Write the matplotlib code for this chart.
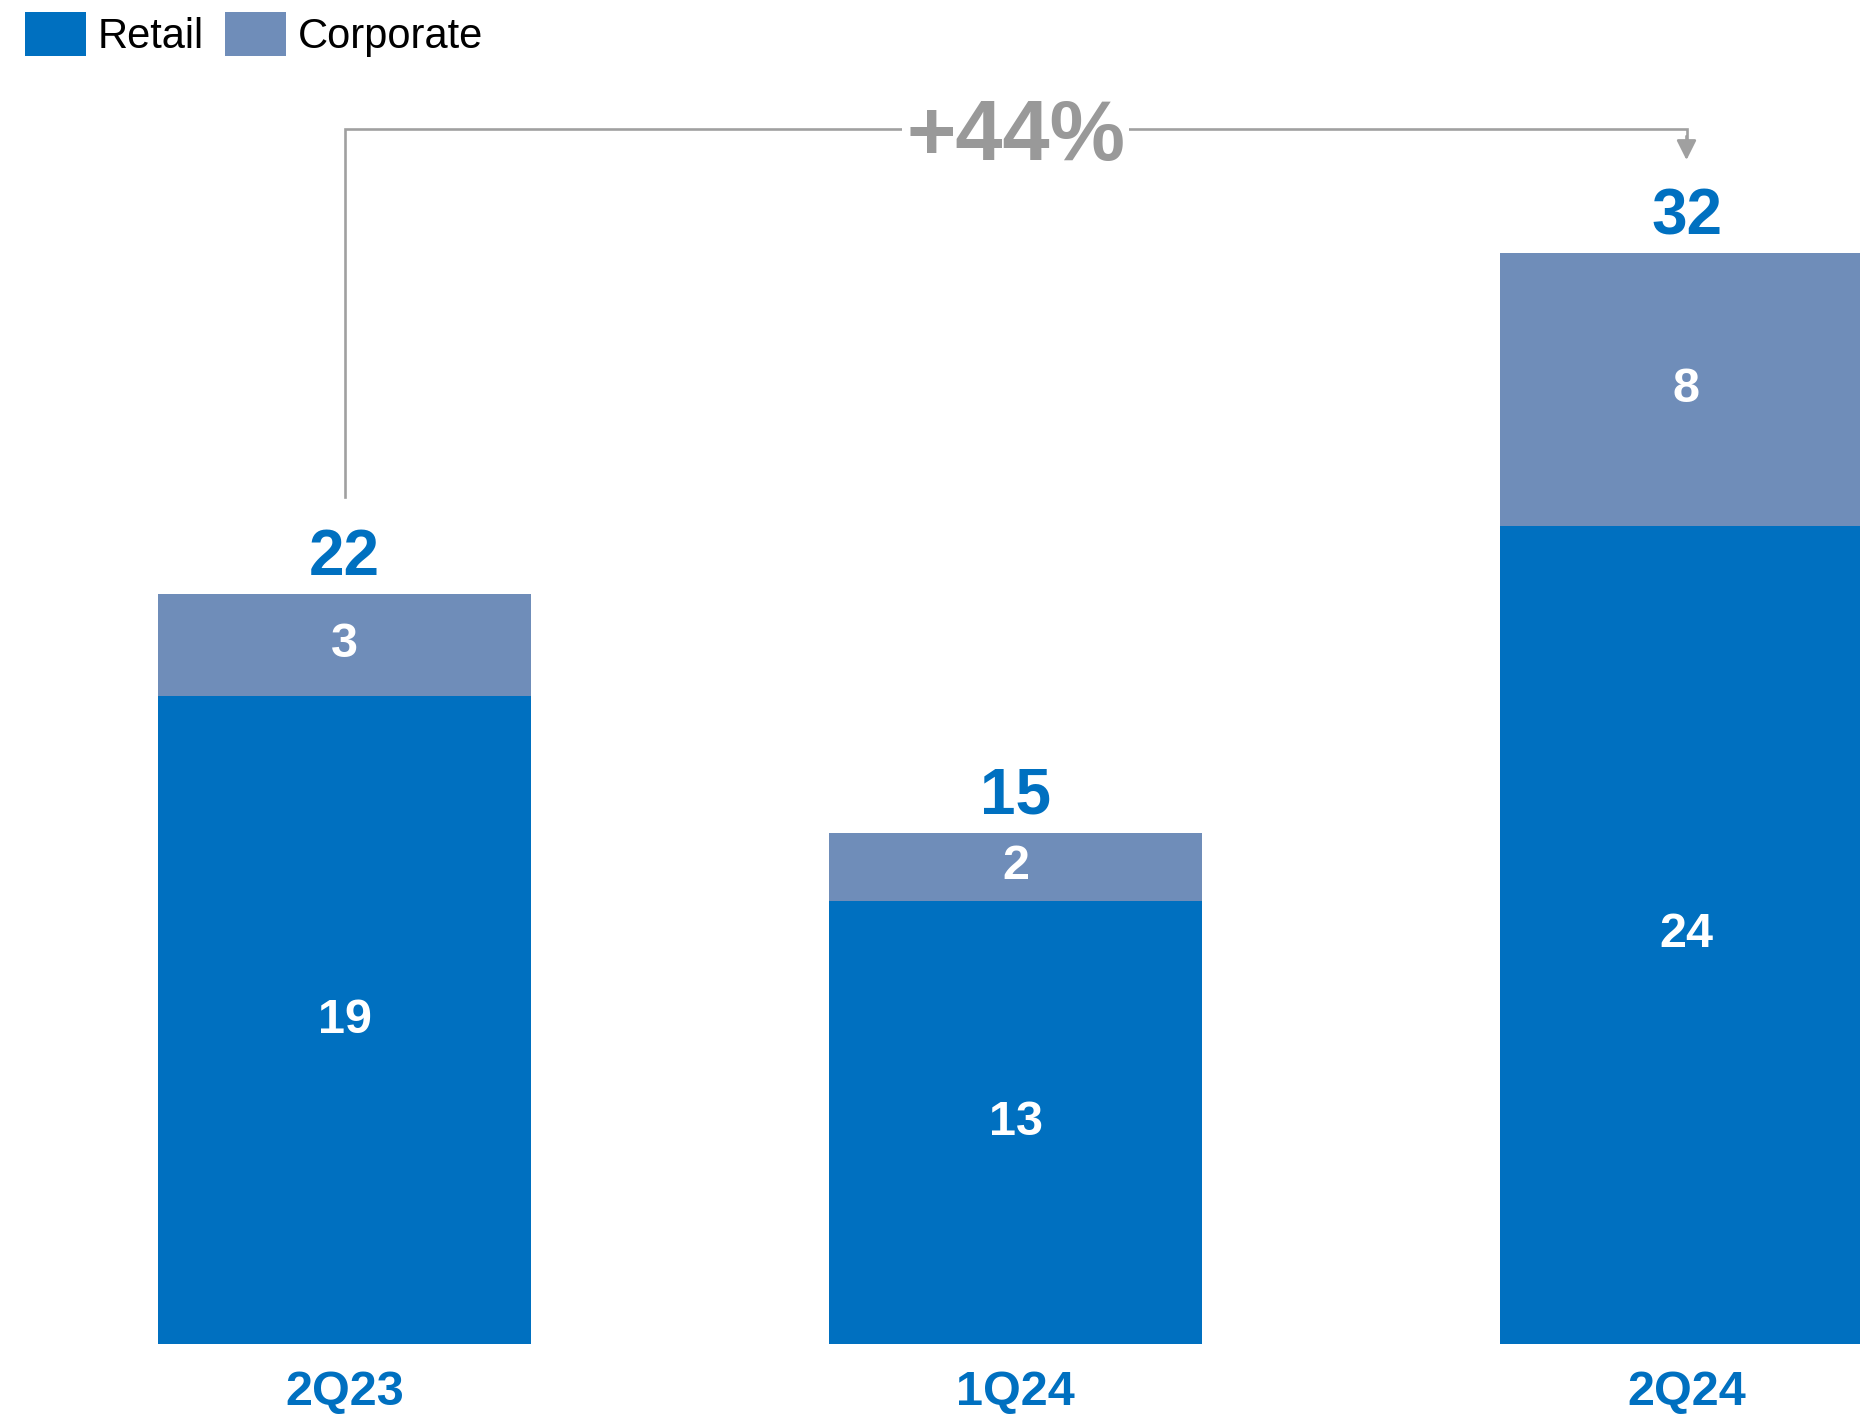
import matplotlib
matplotlib.use("Agg")
import matplotlib.pyplot as plt
from matplotlib.patches import Patch

# Data
quarters = ["2Q23", "1Q24", "2Q24"]
retail = [19, 13, 24]
corporate = [3, 2, 8]
growth_label = "+44%"

RETAIL_BLUE = "#0070C0"
CORP_BLUE = "#6F8DB9"
GREY = "#999999"
LINE_GREY = "#A0A0A0"

plt.rcParams["font.family"] = ["Liberation Sans", "DejaVu Sans"]

W, H, DPI = 1860, 1415, 100
fig = plt.figure(figsize=(W / DPI, H / DPI), dpi=DPI)

base_px = 1344          # baseline of the bars, from the top of the figure
px_per_unit = 34.1
ax = fig.add_axes([0, (H - base_px) / H, 1, base_px / H])
ax.set_xlim(-344.5 / 671, (W - 344.5) / 671)
ax.set_ylim(0, base_px / px_per_unit)
for s in ax.spines.values():
    s.set_visible(False)
ax.set_yticks([])

x = list(range(len(quarters)))
totals = [r + c for r, c in zip(retail, corporate)]
width = 0.556

ax.bar(x, retail, width, color=RETAIL_BLUE, edgecolor="none", label="Retail")
ax.bar(x, corporate, width, bottom=retail, color=CORP_BLUE, edgecolor="none",
       label="Corporate")

# Segment values
for xi, r, c in zip(x, retail, corporate):
    ax.text(xi, r / 2, f"{r}", ha="center", va="center", color="white",
            fontsize=35, fontweight="bold")
    ax.text(xi, r + c / 2, f"{c}", ha="center", va="center", color="white",
            fontsize=35, fontweight="bold")

# Totals above bars
for xi, t in zip(x, totals):
    ax.annotate(f"{t}", (xi, t), xytext=(0, 13.5), textcoords="offset points",
                ha="center", va="baseline", color=RETAIL_BLUE, fontsize=46,
                fontweight="bold")

# Category axis
ax.set_xticks(x)
ax.set_xticklabels(quarters, color=RETAIL_BLUE, fontsize=35, fontweight="bold")
ax.tick_params(axis="x", length=0, pad=19)

# Growth bracket from first to last quarter
y_bar = (base_px - 129) / px_per_unit
y_left_end = totals[0] + 2.84
y_tip = totals[-1] + 2.72
ax.plot([x[0], x[0], x[-1], x[-1]], [y_left_end, y_bar, y_bar, y_tip + 0.6],
        color=LINE_GREY, lw=1.9, solid_joinstyle="miter", zorder=3)
ax.annotate("", xy=(x[-1], y_tip), xytext=(x[-1], y_tip + 0.7),
            arrowprops=dict(arrowstyle="-|>,head_length=0.6,head_width=0.3",
                            mutation_scale=20, color=LINE_GREY, lw=1.9,
                            shrinkA=0, shrinkB=0),
            zorder=3)
ax.text((x[0] + x[-1]) / 2, y_bar - 31 / px_per_unit, growth_label, ha="center",
        va="baseline", color=GREY, fontsize=61, fontweight="bold",
        family=["Liberation Sans Narrow", "Liberation Sans", "DejaVu Sans"],
        bbox=dict(boxstyle="square,pad=0.05", facecolor="white", edgecolor="none"),
        zorder=4)

# Legend
handles = [Patch(facecolor=RETAIL_BLUE, edgecolor="none", label="Retail"),
           Patch(facecolor=CORP_BLUE, edgecolor="none", label="Corporate")]
fig.legend(handles=handles, loc="upper left", bbox_to_anchor=(25 / W, 1 - 12 / H),
           ncol=2, frameon=False, fontsize=30, handlelength=1.47, handleheight=1.24,
           handletextpad=0.28, columnspacing=0.5, borderpad=0, borderaxespad=0)

fig.savefig("out.png", dpi=DPI, facecolor="white")
